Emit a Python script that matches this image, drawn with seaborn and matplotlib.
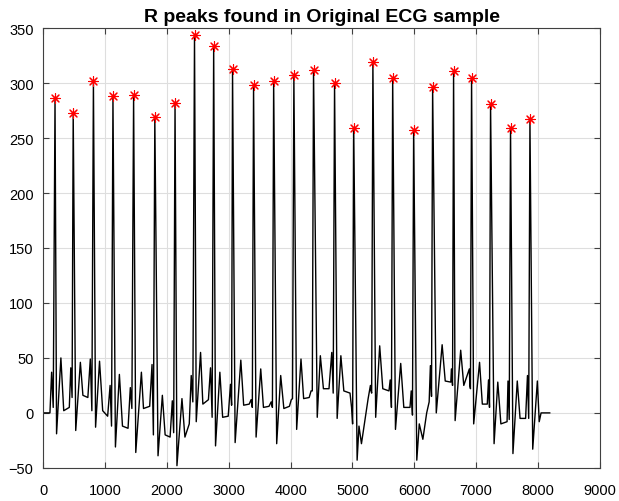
import numpy as np
import pandas as pd
import matplotlib
matplotlib.use('Agg')
import matplotlib.pyplot as plt
import seaborn as sns

# R peaks (sample index, amplitude)
r_x = [189, 483, 810, 1126, 1460, 1803, 2130, 2445, 2755, 3060, 3400, 3725, 4052,
       4370, 4710, 5020, 5330, 5650, 5989, 6296, 6635, 6926, 7233, 7556, 7870]
r_y = [286, 273, 302, 288, 289, 269, 282, 344, 334, 313, 298, 302, 307,
       312, 300, 259, 319, 305, 257, 296, 311, 305, 281, 259, 267]

# bump just before each R
p_x = [134, 444, 760, 1080, 1407, 1758, 2086, 2392, 2704, 3027, 3360, 3685, 4010,
       4330, 4665, 4985, 5290, 5610, 5950, 6260, 6600, 6890, 7200, 7515, 7830]
p_y = [37, 41, 49, 25, 23, 44, 11, 34, 41, 26, 12, 10, 12,
       20, 55, 5, 25, 30, 20, 43, 40, 40, 30, 29, 34]
# small dip between bump and R
q_x = [160, 465, 785, 1103, 1432, 1780, 2108, 2418, 2730, 3045, 3380, 3705, 4030,
       4350, 4688, 5002, 5310, 5630, 5970, 6278, 6618, 6908, 7216, 7535, 7850]
q_y = [5, 14, 2, -12, 4, -20, -18, 10, -4, 7, 5, 5, 13,
       20, 18, -10, 18, 5, -2, 15, 25, 22, 5, -6, -5]

# S dip after R
s_x = [214, 524, 845, 1166, 1495, 1855, 2161, 2473, 2785, 3102, 3441, 3774, 4097,
       4430, 4752, 5075, 5375, 5695, 6040, 6355, 6660, 6960, 7290, 7595, 7915]
s_y = [-19, -16, -13, -31, -36, -39, -48, -8, -30, -27, -22, -28, -15,
       -4, -5, -43, -4, -15, -43, 0, -7, -10, -28, -37, -33]

# T wave after S
t_x = [284, 599, 909, 1230, 1586, 1925, 2242, 2543, 2855, 3194, 3516, 3839, 4167,
       4480, 4812, 5145, 5440, 5780, 6138, 6450, 6750, 7055, 7350, 7665, 7990]
t_y = [50, 46, 47, 35, 37, 16, 13, 55, 37, 48, 40, 34, 49,
       52, 52, -28, 61, 45, -24, 62, 57, 46, 28, 29, 29]

# extra wiggles in the two wide dips
w_x = [5105, 6080]
w_y = [-12, -10]

# baseline between beats
b_x = [330, 640, 960, 1280, 1620, 1970, 2290, 2580, 2900, 3240, 3560, 3890, 4210,
       4530, 4860, 5253, 5490, 5830, 6200, 6500, 6800, 7100, 7400, 7710, 8020]
b_y = [2, 16, 2, -12, 4, -20, -22, 8, -4, 7, 5, 4, 13,
       22, 20, 13, 22, 5, 0, 29, 25, 8, -10, -5, -8]
b2_x = [420, 720, 1040, 1370, 1720, 2050, 2360, 2670, 2990, 3330, 3650, 3980, 4300,
        4620, 4960, 5300, 5590, 5930, 6240, 6590, 6900, 7180, 7500, 7800, 8050]
b2_y = [5, 14, -3, -14, 6, -22, -10, 12, -3, 8, 6, 6, 14,
        22, 18, 20, 20, 5, 10, 28, 24, 8, -8, -5, 0]

# zero padding at both ends
pad_x = [0, 107, 8190]
pad_y = [0, 0, 0]

sig = pd.DataFrame({
    'n': np.concatenate([pad_x, p_x, q_x, r_x, s_x, t_x, w_x, b_x, b2_x]),
    'v': np.concatenate([pad_y, p_y, q_y, r_y, s_y, t_y, w_y, b_y, b2_y]),
}).sort_values('n')
peaks = pd.DataFrame({'n': r_x, 'v': r_y})

plt.rcParams['font.family'] = ['Liberation Sans', 'DejaVu Sans']
fig = plt.figure(figsize=(6.19, 5.02), dpi=100)
ax = fig.add_axes([0.070, 0.066, 0.899, 0.876])

sns.lineplot(data=sig, x='n', y='v', color='black', linewidth=1.0,
             estimator=None, sort=False, ax=ax)
sns.scatterplot(data=peaks, x='n', y='v', marker=(8, 2, 0), color='red',
                s=50, linewidth=0.8, ax=ax, zorder=3)

ax.set_xlim(0, 9000)
ax.set_ylim(-50, 350)
ax.set_xticks(range(0, 9001, 1000))
ax.set_yticks(range(-50, 351, 50))
ax.grid(True, color='#dedede', linewidth=0.8)
ax.set_axisbelow(True)
ax.tick_params(direction='in', length=4, labelsize=10.5, top=True, right=True,
               color='#404040')
ax.tick_params(axis='x', pad=11)
ax.tick_params(axis='y', pad=7)
for s in ax.spines.values():
    s.set_color('#404040')
    s.set_linewidth(0.8)
ax.set_xlabel('')
ax.set_ylabel('')
ax.set_title('R peaks found in Original ECG sample', fontsize=14, fontweight='bold', pad=5)

fig.savefig('out.png', dpi=100)
